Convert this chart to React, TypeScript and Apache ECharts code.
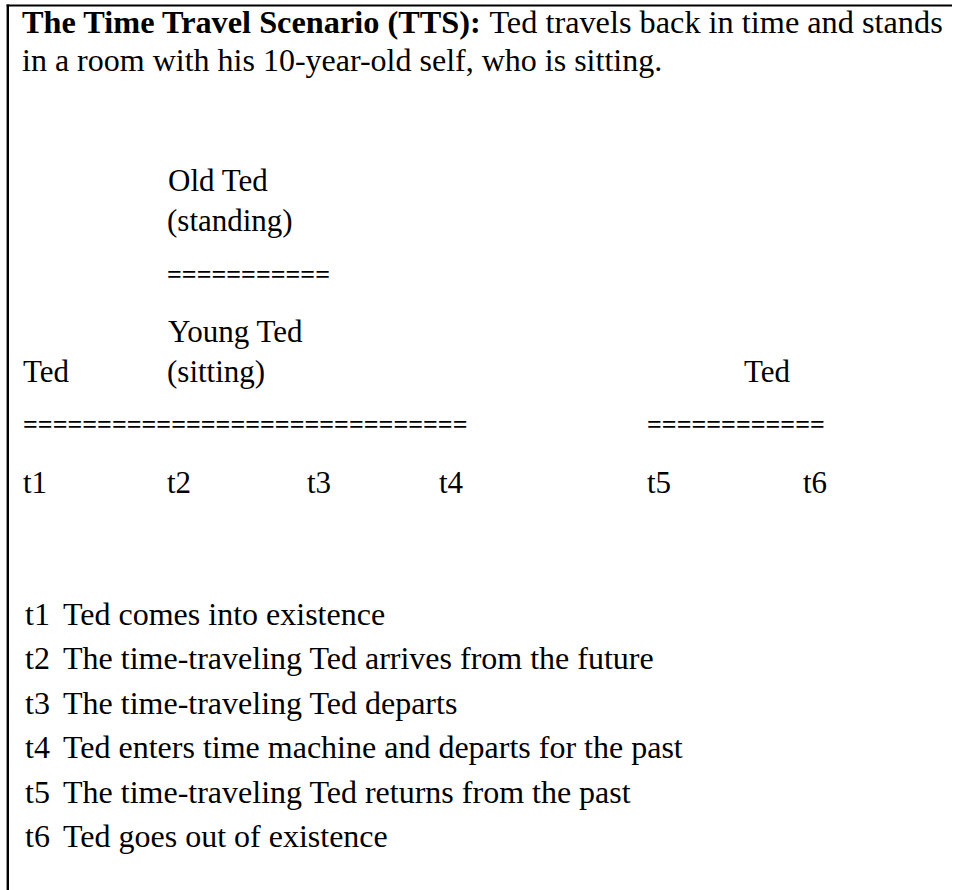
import React, { useEffect, useRef } from "react";
import * as echarts from "echarts";

// ---- content ----
const titleBold = "The Time Travel Scenario (TTS):";
const titleRest = " Ted travels back in time and stands";
const titleLine2 = "in a room with his 10-year-old self, who is sitting.";
const upperLabels = ["Old Ted", "(standing)"];
const lowerLabels = ["Young Ted", "(sitting)"];
const tedLabel = "Ted";
const timeLabels = ["t1", "t2", "t3", "t4", "t5", "t6"];
const events = [
  "Ted comes into existence",
  "The time-traveling Ted arrives from the future",
  "The time-traveling Ted departs",
  "Ted enters time machine and departs for the past",
  "The time-traveling Ted returns from the past",
  "Ted goes out of existence",
];
const eqCounts = [11, 30, 12];

// ---- layout ----
const FONT = '"Liberation Serif", "Times New Roman", serif';
const BODY = 32;
const TITLE = 32.3;
const LABEL = 31;
const EQ = 26;
const timeX = [23, 167, 307, 439, 647, 803];

export default function App() {
  const ref = useRef<HTMLDivElement>(null);
  useEffect(() => {
    document.body.style.margin = "0";
    const chart = echarts.init(ref.current!, null, { renderer: "svg" });

    const txt = (text: string, x: number, baseline: number, size: number, extra: any = {}) => ({
      type: "text",
      x,
      y: baseline - size * 0.3375,
      style: {
        text,
        fill: "#000",
        fontSize: size,
        fontFamily: FONT,
        align: "left",
        verticalAlign: "middle",
        ...extra,
      },
    });
    const eq = (n: number, x: number, center: number) => ({
      type: "text",
      x,
      y: center - 2.2,
      style: {
        text: "=".repeat(n),
        fill: "#000",
        fontSize: EQ,
        fontWeight: "bold",
        fontFamily: FONT,
        align: "left",
        verticalAlign: "middle",
      },
    });

    const elements: any[] = [
      { type: "line", shape: { x1: 7.8, y1: 4.5, x2: 7.8, y2: 890 }, style: { stroke: "#000", lineWidth: 2.4 } },
      { type: "line", shape: { x1: 6.6, y1: 5.5, x2: 952, y2: 5.5 }, style: { stroke: "#000", lineWidth: 2.2 } },
      txt(`{b|${titleBold}}${titleRest}`, 22, 33, TITLE, {
        rich: { b: { fontWeight: "bold", fontSize: TITLE, fontFamily: FONT, fill: "#000" } },
      }),
      txt(titleLine2, 22, 71, BODY),
      txt(upperLabels[0], 168, 190.5, LABEL),
      txt(upperLabels[1], 167, 231, LABEL),
      eq(eqCounts[0], 167, 277),
      txt(lowerLabels[0], 168, 342, LABEL),
      txt(tedLabel, 23, 381.5, LABEL),
      txt(lowerLabels[1], 167, 381.5, LABEL),
      txt(tedLabel, 744, 381.5, LABEL),
      eq(eqCounts[1], 23, 426.5),
      eq(eqCounts[2], 647, 426.5),
    ];
    timeLabels.forEach((t, i) => elements.push(txt(t, timeX[i], 492.5, LABEL)));
    events.forEach((e, i) => {
      const b = 624.5 + i * 44.5;
      elements.push(txt(timeLabels[i], 25, b, BODY));
      elements.push(txt(e, 63, b, BODY));
    });

    chart.setOption({
      animation: false,
      backgroundColor: "#fff",
      graphic: { elements },
    });
    return () => chart.dispose();
  }, []);
  return <div ref={ref} style={{ width: 956, height: 890 }} />;
}
